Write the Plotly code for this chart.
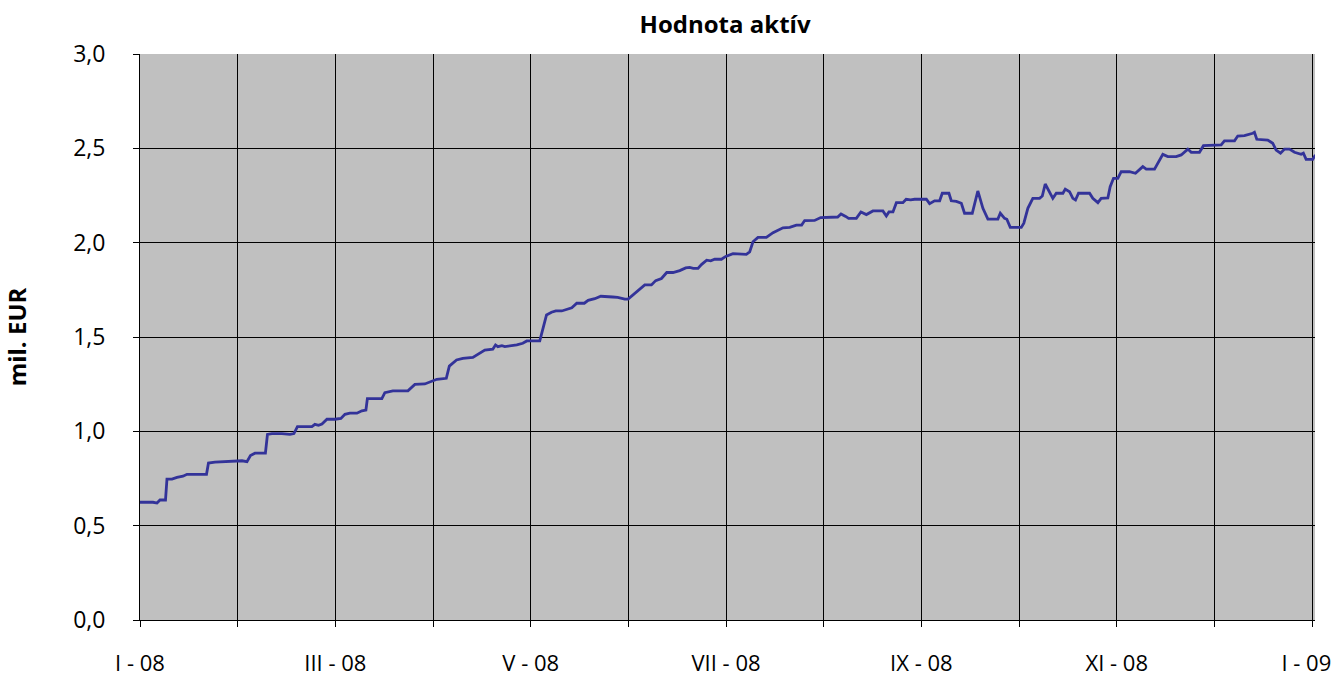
import plotly.graph_objects as go

# time in months since 1 Jan 2008 (0 = I-08, 12 = I-09)
month = [0, 0.133, 0.174, 0.205, 0.261, 0.276, 0.327, 0.379, 0.440, 0.481,
         0.681, 0.701, 0.767, 0.849, 0.942, 1.044, 1.095, 1.131, 1.177, 1.284,
         1.305, 1.351, 1.453, 1.535, 1.576, 1.612, 1.760, 1.791, 1.827, 1.863,
         1.914, 1.995, 2.057, 2.098, 2.149, 2.221, 2.272, 2.313, 2.328, 2.476,
         2.507, 2.589, 2.743, 2.814, 2.916, 2.988, 3.039, 3.136, 3.167, 3.241,
         3.305, 3.408, 3.459, 3.530, 3.612, 3.640, 3.664, 3.705, 3.735, 3.807,
         3.858, 3.919, 3.960, 4.093, 4.127, 4.162, 4.213, 4.257, 4.318, 4.390,
         4.421, 4.472, 4.549, 4.588, 4.656, 4.718, 4.779, 4.840, 4.891, 4.963,
         4.997, 5.048, 5.099, 5.134, 5.168, 5.236, 5.280, 5.339, 5.393, 5.457,
         5.526, 5.587, 5.628, 5.664, 5.713, 5.748, 5.802, 5.843, 5.884, 5.953,
         5.997, 6.071, 6.140, 6.208, 6.242, 6.276, 6.327, 6.413, 6.481, 6.532,
         6.583, 6.652, 6.720, 6.774, 6.805, 6.907, 6.969, 7.143, 7.177, 7.225,
         7.255, 7.334, 7.381, 7.437, 7.504, 7.606, 7.641, 7.668, 7.709, 7.744,
         7.811, 7.844, 7.890, 7.931, 8.051, 8.084, 8.135, 8.187, 8.214, 8.282,
         8.306, 8.358, 8.409, 8.442, 8.521, 8.578, 8.630, 8.681, 8.783, 8.808,
         8.852, 8.875, 8.910, 9.023, 9.049, 9.090, 9.141, 9.210, 9.238, 9.268,
         9.312, 9.346, 9.381, 9.449, 9.473, 9.517, 9.551, 9.578, 9.609, 9.722,
         9.755, 9.807, 9.841, 9.909, 9.933, 9.967, 10.011, 10.046, 10.131, 10.192,
         10.267, 10.302, 10.387, 10.472, 10.523, 10.609, 10.660, 10.728, 10.763, 10.847,
         10.888, 11.069, 11.103, 11.206, 11.239, 11.308, 11.393, 11.410, 11.434, 11.546,
         11.597, 11.632, 11.677, 11.718, 11.769, 11.820, 11.888, 11.911, 11.939, 12.007,
         12.034]

# asset value, mil. EUR
value = [0.624, 0.624, 0.620, 0.636, 0.636, 0.747, 0.747, 0.756, 0.762, 0.772,
         0.772, 0.832, 0.837, 0.840, 0.844, 0.844, 0.839, 0.872, 0.884, 0.884,
         0.984, 0.988, 0.988, 0.984, 0.988, 1.025, 1.025, 1.037, 1.032, 1.039,
         1.064, 1.064, 1.068, 1.090, 1.096, 1.096, 1.109, 1.113, 1.173, 1.173,
         1.205, 1.214, 1.215, 1.249, 1.251, 1.267, 1.276, 1.281, 1.346, 1.378,
         1.387, 1.392, 1.408, 1.431, 1.435, 1.458, 1.449, 1.454, 1.449, 1.454,
         1.458, 1.467, 1.479, 1.480, 1.546, 1.617, 1.631, 1.638, 1.638, 1.651,
         1.655, 1.679, 1.679, 1.694, 1.703, 1.716, 1.716, 1.712, 1.710, 1.701,
         1.701, 1.723, 1.745, 1.763, 1.776, 1.776, 1.799, 1.810, 1.842, 1.842,
         1.852, 1.866, 1.869, 1.864, 1.864, 1.884, 1.907, 1.904, 1.912, 1.912,
         1.927, 1.942, 1.938, 1.938, 1.951, 2.005, 2.028, 2.028, 2.053, 2.067,
         2.079, 2.081, 2.093, 2.093, 2.117, 2.118, 2.133, 2.136, 2.152, 2.139,
         2.129, 2.129, 2.163, 2.149, 2.168, 2.168, 2.141, 2.163, 2.163, 2.212,
         2.212, 2.230, 2.227, 2.230, 2.230, 2.207, 2.222, 2.222, 2.262, 2.262,
         2.222, 2.219, 2.209, 2.156, 2.156, 2.274, 2.182, 2.125, 2.125, 2.156,
         2.129, 2.124, 2.081, 2.081, 2.103, 2.182, 2.235, 2.235, 2.247, 2.311,
         2.270, 2.235, 2.262, 2.262, 2.284, 2.270, 2.235, 2.226, 2.262, 2.262,
         2.235, 2.212, 2.235, 2.237, 2.297, 2.341, 2.341, 2.376, 2.376, 2.368,
         2.403, 2.390, 2.390, 2.468, 2.456, 2.456, 2.465, 2.496, 2.479, 2.479,
         2.514, 2.518, 2.540, 2.540, 2.565, 2.567, 2.580, 2.585, 2.548, 2.544,
         2.527, 2.491, 2.474, 2.496, 2.496, 2.479, 2.468, 2.474, 2.442, 2.442,
         2.465]

tick_pos = list(range(13))
tick_text = ["I - 08", "", "III - 08", "", "V - 08", "", "VII - 08", "",
             "IX - 08", "", "XI - 08", "", "I - 09\u00a0\u00a0"]

FONT = "Open Sans"

fig = go.Figure()
fig.add_trace(go.Scatter(
    x=month, y=value, mode="lines",
    line=dict(color="#333399", width=2.8),
    hoverinfo="y",
    showlegend=False,
))

fig.update_layout(
    width=1336, height=676,
    margin=dict(l=140, r=21, t=54, b=56, autoexpand=False),
    paper_bgcolor="white",
    plot_bgcolor="#C0C0C0",
    separators=", ",
    font=dict(family=FONT, size=23, color="black"),
    title=dict(text="<b>Hodnota aktív</b>", x=0.5427, xanchor="center",
               xref="container", y=0.963, yanchor="middle", yref="container",
               font=dict(family=FONT, size=24, color="black")),
    xaxis=dict(
        range=[0, 12.03],
        automargin=False,
        tickmode="array", tickvals=tick_pos, ticktext=tick_text,
        ticklabeloverflow="allow",
        showgrid=True, gridcolor="black", gridwidth=1,
        zeroline=False,
        showline=True, linecolor="black", linewidth=1,
        ticks="outside", ticklen=6, tickcolor="black",
        ticklabelstandoff=18,
        tickfont=dict(family=FONT, size=22),
    ),
    yaxis=dict(
        range=[0, 3],
        automargin=False,
        tickmode="array", tickvals=[0, 0.5, 1, 1.5, 2, 2.5, 3],
        tickformat=".1f",
        showgrid=True, gridcolor="black", gridwidth=1,
        zeroline=False,
        showline=True, linecolor="black", linewidth=1,
        ticks="outside", ticklen=6, tickcolor="black",
        ticklabelstandoff=23,
        tickfont=dict(family=FONT, size=23),
        title=dict(text="<b>mil. EUR</b>", standoff=40,
                   font=dict(family=FONT, size=24)),
    ),
)

fig.write_html(
    "out.html",
    config={"displayModeBar": False},
    post_script="document.body.style.margin='0';document.body.style.overflow='hidden';",
)
